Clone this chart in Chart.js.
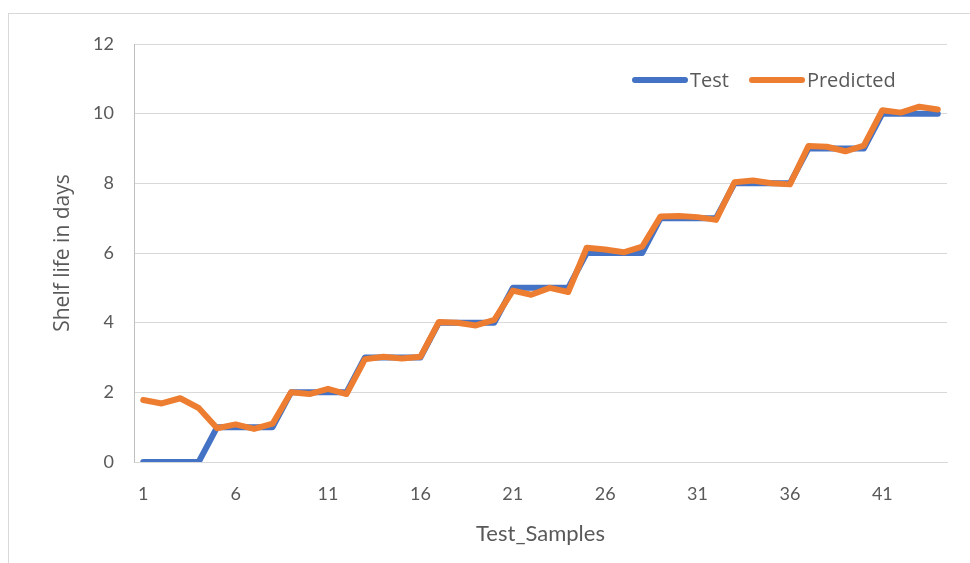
<!DOCTYPE html>
<html>
<head>
<meta charset="utf-8">
<script src="https://cdn.jsdelivr.net/npm/chart.js@4"></script>
<style>
  html, body { margin: 0; padding: 0; background: #fff; }
  #wrap { position: relative; width: 970px; height: 563px; overflow: hidden; }
  #frame { position: absolute; left: 8px; top: 13px; width: 1000px; height: 600px; border: 1px solid #d9d9d9; }
  canvas { position: absolute; left: 0; top: 0; }
  #legend { position: absolute; top: 66px; left: 632px; font-family: "Open Sans", sans-serif; font-size: 20px; color: #595959; display: flex; align-items: center; }
  .key { display: inline-block; width: 56px; height: 6px; border-radius: 3px; margin-right: 2px; }
  .item { display: flex; align-items: center; margin-right: 20px; }
</style>
</head>
<body>
<div id="wrap">
  <div id="frame"></div>
  <canvas id="chart" width="970" height="563"></canvas>
  <div id="legend">
    <span class="item"><span class="key" style="background:#4472c4"></span>Test</span>
    <span class="item"><span class="key" style="background:#ed7d31"></span>Predicted</span>
  </div>
</div>
<script>
const samples = ["1","2","3","4","5","6","7","8","9","10","11","12","13","14","15","16","17","18","19","20","21","22",
  "23","24","25","26","27","28","29","30","31","32","33","34","35","36","37","38","39","40","41","42","43","44"];

const testValues = [0, 0, 0, 0, 1, 1, 1, 1, 2, 2, 2, 2, 3, 3, 3, 3, 4, 4, 4, 4, 5, 5,
  5, 5, 6, 6, 6, 6, 7, 7, 7, 7, 8, 8, 8, 8, 9, 9, 9, 9, 10, 10, 10, 10];

const predictedValues = [1.78, 1.68, 1.83, 1.55, 0.97, 1.08, 0.95, 1.1, 2.0, 1.95, 2.1, 1.95, 2.95, 3.02, 2.97, 3.02, 4.02, 4.0, 3.92, 4.08, 4.92, 4.8,
  5.0, 4.88, 6.15, 6.1, 6.02, 6.18, 7.05, 7.06, 7.03, 6.95, 8.03, 8.08, 8.0, 7.97, 9.07, 9.05, 8.92, 9.08, 10.1, 10.03, 10.2, 10.12];

const yTicks = [0, 2, 4, 6, 8, 10, 12];

const tickFont = { family: "Lato, 'Open Sans', sans-serif", size: 18 };

new Chart(document.getElementById("chart"), {
  type: "line",
  data: {
    labels: samples,
    datasets: [
      {
        label: "Predicted",
        data: predictedValues,
        borderColor: "#ed7d31",
        borderWidth: 6,
        pointRadius: 0,
        tension: 0,
        borderJoinStyle: "round",
        borderCapStyle: "round",
        order: 1,
      },
      {
        label: "Test",
        data: testValues,
        borderColor: "#4472c4",
        borderWidth: 6,
        pointRadius: 0,
        tension: 0,
        borderJoinStyle: "round",
        borderCapStyle: "round",
        order: 2,
      },
    ],
  },
  options: {
    responsive: false,
    animation: false,
    layout: { padding: { top: 44, right: 23, bottom: 0, left: 0 } },
    scales: {
      x: {
        offset: true,
        grid: { display: false, drawTicks: false },
        border: { display: true, color: "#d9d9d9" },
        ticks: {
          color: "#595959",
          font: tickFont,
          autoSkip: false,
          maxRotation: 0,
          padding: 21,
          callback: (value, index) => (index % 5 === 0 ? samples[index] : ""),
        },
        title: {
          display: true,
          text: "Test_Samples",
          color: "#595959",
          font: { family: "Lato, sans-serif", size: 22 },
          padding: { top: 0, bottom: 16 },
        },
        afterFit: (scale) => { scale.height = 101; },
      },
      y: {
        min: 0,
        max: 12,
        afterBuildTicks: (scale) => { scale.ticks = yTicks.map((v) => ({ value: v })); },
        grid: { color: "#d9d9d9", lineWidth: 1, drawTicks: false },
        border: { display: true, color: "#bfbfbf" },
        ticks: { color: "#595959", font: tickFont, padding: 20 },
        title: {
          display: true,
          text: "Shelf life in days",
          color: "#595959",
          font: { family: "'Open Sans', sans-serif", size: 21 },
          padding: { top: 50, bottom: 0 },
        },
        afterFit: (scale) => { scale.width = 134; },
      },
    },
    plugins: {
      legend: { display: false },
      tooltip: { enabled: false },
    },
  },
});
</script>
</body>
</html>
